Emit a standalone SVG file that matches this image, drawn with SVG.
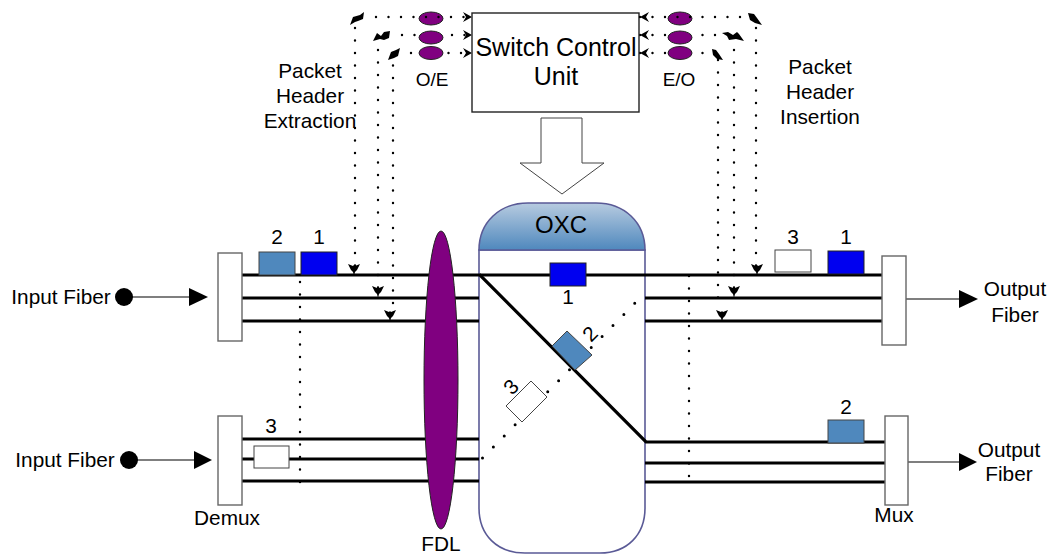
<svg xmlns="http://www.w3.org/2000/svg" width="1055" height="557" viewBox="0 0 1055 557">
<style>
text{font-family:"Liberation Sans",Arial,sans-serif;fill:#000;font-size:20.800px;text-anchor:middle}
.fiber{stroke:#000;stroke-width:3.2;fill:none}
.thin{stroke:#555;stroke-width:1.3;fill:none}
.dots{stroke:#000;stroke-width:2.4;stroke-linecap:round;stroke-dasharray:0 12.500;fill:none}
.diag{stroke:#000;stroke-width:3;stroke-linecap:round;stroke-dasharray:0 15.500;fill:none}
.box{fill:#fff;stroke:#666;stroke-width:1.4}
.blue{fill:#0000f0;stroke:#222;stroke-width:1}
.steel{fill:#4f88bd;stroke:#444;stroke-width:1}
.white{fill:#fff;stroke:#444;stroke-width:1}
.oe{fill:#800080;stroke:#222;stroke-width:1}
.ah{fill:#000}
</style>
<defs>
<linearGradient id="hdr" x1="0" y1="0" x2="0" y2="1"><stop offset="0" stop-color="#b7cbe0"/><stop offset="1" stop-color="#4f88bd"/></linearGradient>
<g id="blob"><path d="M-6 -5L-1 -3L0 -4L1 -3L6 -5L3 1L1 3L0 7L-1 3L-3 1Z" class="ah"/></g>
</defs>

<g id="oxc">
<path d="M479 250V508C479 535 497 553 525 553H600C627 553 645 535 645 508V250Z" fill="#fff" stroke="#5a5a96" stroke-width="1.6"/>
<path d="M479 250C479 222 500 203 528 203H596C624 203 645 222 645 250Z" fill="url(#hdr)" stroke="#5a5a96" stroke-width="1.6"/>
<text x="561" y="233" style="font-size:24px">OXC</text>
</g>

<g id="connectors">
<path class="fiber" d="M242 275H480L646 442H885M242 298H479M242 321H479M242 439H479M242 459H479M242 481H479"/>
<path class="fiber" d="M480 275H882M645 298H882M645 321H882M645 463H885M645 482H885"/>
<path class="diag" d="M482.500 458L640 298"/>
<path class="dots" d="M300 282V490M689 276V482"/>
<path class="dots" d="M355 28V268M378 50V288M393 53V312"/>
<path class="dots" d="M756 28V268M734 50V288M718 60V310"/>
<path class="dots" d="M402 35H466M411 53H466M640 35H725M640 53H712"/>
<path class="thin" d="M132 297H192M137 460H197M906 299H962M908 462H962"/>
<polygon class="ah" points="189,288 208,297 189,306"/>
<polygon class="ah" points="194,451 212,460 194,469"/>
<polygon class="ah" points="959,290 978,299 959,308"/>
<polygon class="ah" points="959,453 977,462 959,471"/>
<use href="#blob" x="354" y="269"/><use href="#blob" x="378" y="291"/><use href="#blob" x="390" y="315"/>
<use href="#blob" x="757" y="269"/><use href="#blob" x="734" y="291"/><use href="#blob" x="722" y="315"/>
<path class="ah" d="M350 25L353 17L360 15L364 12L363 19L358 21L355 22ZM373 41L377 33L381 36L384 32L390 31L389 38L384 40L380 39ZM388 60L391 52L396 50L400 48L398 56L394 58Z"/>
<path class="ah" d="M748 13L754 14L757 18L762 25L755 23L750 20ZM722 33L728 32L733 35L737 32L739 34L744 41L736 39L729 40L727 36ZM712 49L716 50L719 54L723 60L717 59L713 55Z"/>
<polygon class="ah" points="463,12 472,17 463,22 466,17"/>
<polygon class="ah" points="463,30 472,35 463,40 466,35"/>
<polygon class="ah" points="463,48 472,53 463,58 466,53"/>
<polygon class="ah" points="649,12 640,17 649,22 646,17"/>
<polygon class="ah" points="649,30 640,35 649,40 646,35"/>
<polygon class="ah" points="649,48 640,53 649,58 646,53"/>
</g>

<g id="switch-arrow"><polygon points="541,118 582,118 582,163 604,163 562,194 520,163 541,163" fill="#fff" stroke="#444" stroke-width="1"/></g>
<g id="switch-control"><rect x="472" y="13" width="167" height="99" fill="#fff" stroke="#222" stroke-width="1.4"/>
<text x="556" y="56" style="font-size:25px">Switch Control</text><text x="556" y="85" style="font-size:25px">Unit</text></g>

<g id="fdl"><ellipse cx="441" cy="380" rx="17" ry="149" fill="#800080" stroke="#222" stroke-width="1"/><text x="441" y="551">FDL</text></g>

<g id="oe"><ellipse class="oe" cx="431" cy="18.500" rx="12" ry="6.500"/><ellipse class="oe" cx="431" cy="37.500" rx="12" ry="6.500"/><ellipse class="oe" cx="431" cy="53" rx="12" ry="6.500"/><text x="432" y="86" style="font-size:19px">O/E</text></g>
<g id="eo"><ellipse class="oe" cx="680" cy="18.500" rx="12" ry="6.500"/><ellipse class="oe" cx="680" cy="37.500" rx="12" ry="6.500"/><ellipse class="oe" cx="680" cy="53" rx="12" ry="6.500"/><text x="679" y="86" style="font-size:19px">E/O</text></g>
<g id="top-dots"><path class="dots" d="M376 17H466M640 17H748"/></g>

<g id="extraction"><text x="310" y="78">Packet</text><text x="310" y="103">Header</text><text x="310" y="128">Extraction</text></g>
<g id="insertion"><text x="820" y="74">Packet</text><text x="820" y="99">Header</text><text x="820" y="124">Insertion</text></g>

<g id="demux-top"><rect class="box" x="218" y="253" width="24" height="88"/></g>
<g id="demux-bottom"><rect class="box" x="218" y="416" width="24" height="89"/><text x="227" y="525">Demux</text></g>
<g id="mux-top"><rect class="box" x="882" y="256" width="24" height="89"/></g>
<g id="mux-bottom"><rect class="box" x="885" y="416" width="23" height="89"/><text x="894" y="522">Mux</text></g>

<g id="input-top"><circle cx="124" cy="297" r="9" fill="#000"/><text x="61" y="304">Input Fiber</text></g>
<g id="input-bottom"><circle cx="129" cy="460" r="9" fill="#000"/><text x="65" y="467">Input Fiber</text></g>
<g id="output-top"><text x="1015" y="296">Output</text><text x="1015" y="322">Fiber</text></g>
<g id="output-bottom"><text x="1009" y="457">Output</text><text x="1009" y="481">Fiber</text></g>

<g id="pkt-in-2"><rect class="steel" x="259" y="252" width="36" height="23"/><text x="277" y="244">2</text></g>
<g id="pkt-in-1"><rect class="blue" x="301" y="252" width="36" height="23"/><text x="319" y="244">1</text></g>
<g id="pkt-in-3"><rect class="white" x="254" y="446" width="35" height="22"/><text x="271" y="433">3</text></g>
<g id="pkt-oxc-1"><rect class="blue" x="550" y="263" width="36" height="23"/><text x="568" y="304">1</text></g>
<g id="pkt-oxc-2"><polygon class="steel" points="567,331 592,355 575,370 552,346"/><text x="0" y="0" transform="translate(595 339) rotate(-45)">2</text></g>
<g id="pkt-oxc-3"><polygon class="white" points="531,381 547,397 522,422 506,406"/><text x="0" y="0" transform="translate(516 392) rotate(-45)">3</text></g>
<g id="pkt-out-3"><rect class="white" x="775" y="250" width="36" height="22"/><text x="793" y="244">3</text></g>
<g id="pkt-out-1"><rect class="blue" x="828" y="251" width="36" height="23"/><text x="846" y="244">1</text></g>
<g id="pkt-out-2"><rect class="steel" x="828" y="420" width="36" height="23"/><text x="846" y="414">2</text></g>
</svg>
